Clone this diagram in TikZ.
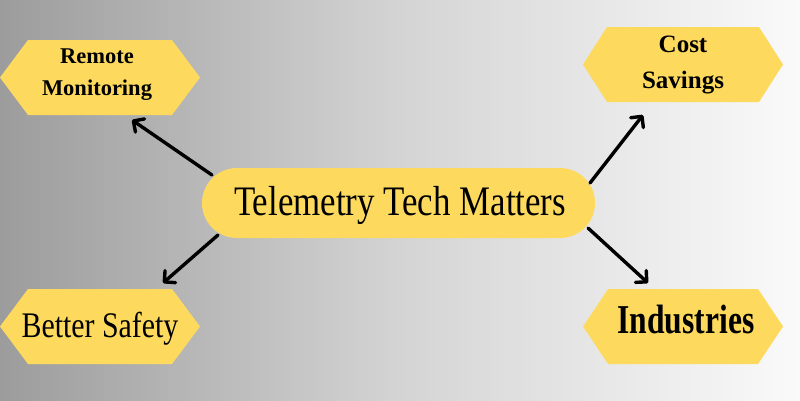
\documentclass[tikz,border=0pt]{standalone}
\usepackage{fontspec}
\setmainfont{Liberation Serif}
\newfontfamily\condfont[FakeStretch=0.83]{Liberation Serif}
\newfontfamily\condbold[FakeStretch=0.77]{Liberation Serif Bold}
\usetikzlibrary{arrows.meta,shapes.misc}
\definecolor{hexyellow}{RGB}{253,218,94}
\definecolor{bgleft}{RGB}{156,156,156}
\definecolor{bgmid}{RGB}{212,212,212}
\definecolor{bgright}{RGB}{250,250,250}
\newcommand\myhex[5]{%
  \fill[hexyellow] ({#1-#3},#2) -- ({#1-#3+#5},{#2-#4}) -- ({#1+#3-#5},{#2-#4}) -- ({#1+#3},#2) -- ({#1+#3-#5},{#2+#4}) -- ({#1-#3+#5},{#2+#4}) -- cycle;}
\begin{document}
\begin{tikzpicture}[x=1pt,y=-1pt,
  conn/.style={line width=3.4pt,line cap=round,-{Straight Barb[length=8pt,width=16pt,line cap=round,line join=round]}},
  hexlabel/.style={inner sep=0pt,align=center,text=black},
  centerbox/.style={rounded rectangle,fill=hexyellow,minimum width=393pt,minimum height=70pt,inner sep=0pt}]
\useasboundingbox (0,0) rectangle (800,400);
\shade[left color=bgleft,right color=bgright,middle color=bgmid] (0,0) rectangle (800,400);
% hexagons
\myhex{100}{77.5}{100}{37.5}{28}
\myhex{683}{64.5}{100}{37.5}{24}
\myhex{100}{326.5}{100}{37.5}{28}
\myhex{683}{326.5}{100}{37.5}{25}
% labels
\node[hexlabel,anchor=base,font=\fontsize{22.5}{32}\selectfont\bfseries] (rm) at (97,95) {Remote\\Monitoring};
\node[hexlabel,anchor=base,font=\fontsize{25}{36}\selectfont\bfseries] (cs) at (683,88) {Cost\\Savings};
\node[hexlabel,anchor=base,font=\fontsize{36}{40}\selectfont\condfont] (bs) at (100,337) {Better Safety};
\node[hexlabel,anchor=base,font=\fontsize{41}{44}\selectfont\condbold] (ind) at (686,333) {Industries};
% centre
\node[centerbox] (c) at (398.5,203) {};
\node[inner sep=0pt,anchor=base,font=\fontsize{42}{46}\selectfont\condfont] (ct) at (400,215) {Telemetry Tech Matters};
% arrows
\coordinate (a1s) at (212,175); \coordinate (a1e) at (132,120);
\coordinate (a2s) at (590,183); \coordinate (a2e) at (643,115);
\coordinate (a3s) at (218,235); \coordinate (a3e) at (163,283);
\coordinate (a4s) at (588,228); \coordinate (a4e) at (648,283);
\draw[conn] (a1s) -- (a1e);
\draw[conn] (a2s) -- (a2e);
\draw[conn] (a3s) -- (a3e);
\draw[conn] (a4s) -- (a4e);
\end{tikzpicture}
\end{document}
